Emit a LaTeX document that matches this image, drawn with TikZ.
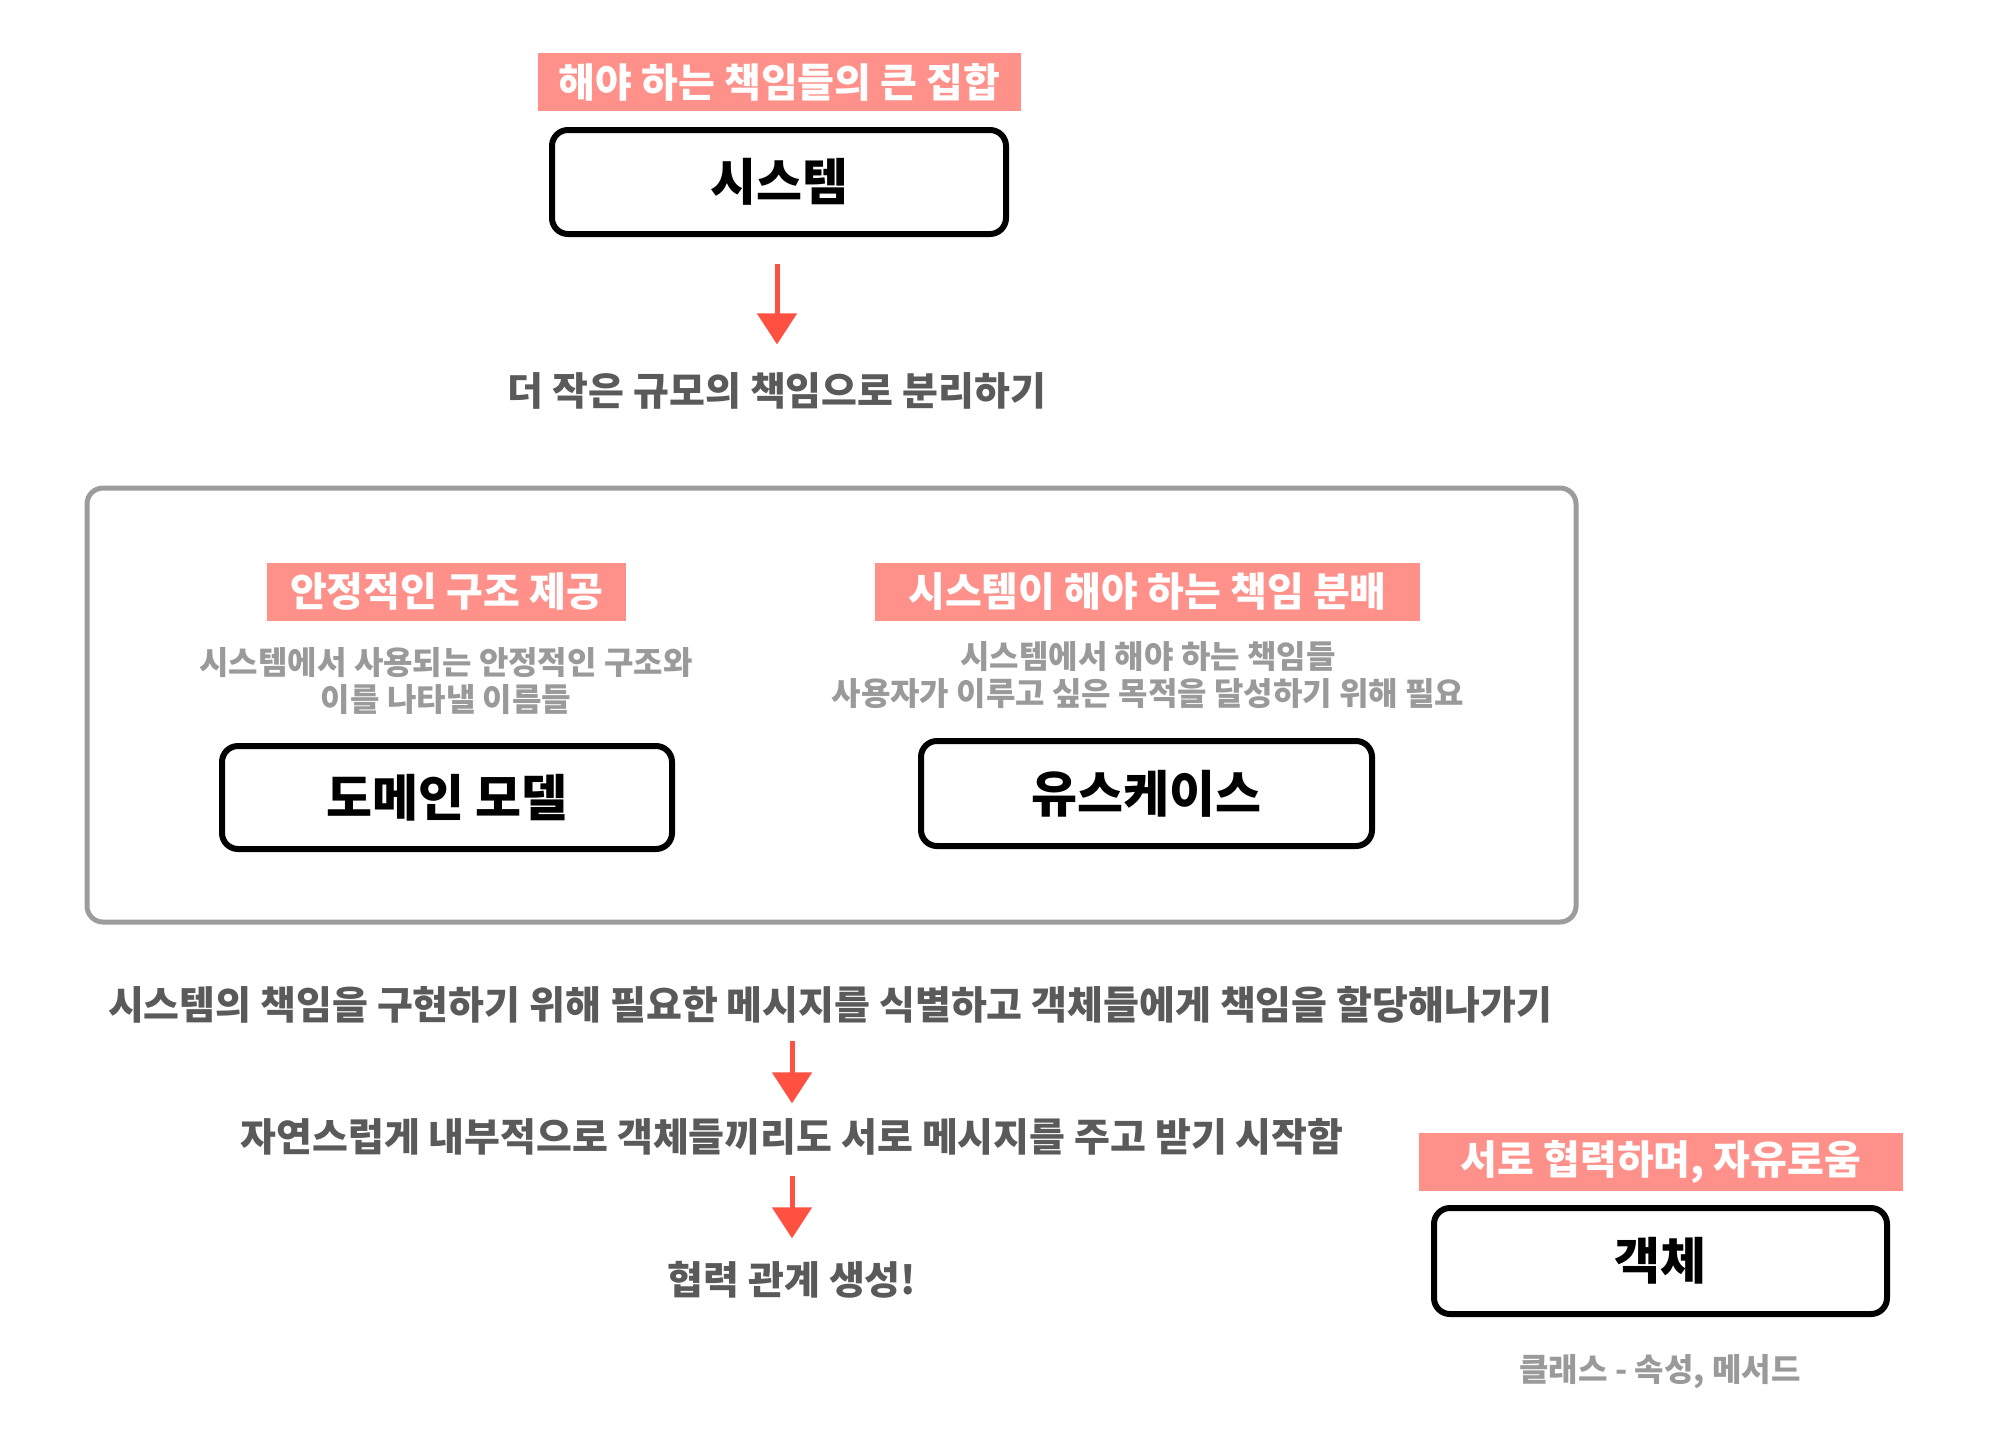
\documentclass[tikz,border=0pt]{standalone}
\usepackage{fontspec}
\setmainfont{Noto Sans CJK KR}
\usetikzlibrary{arrows.meta}
\definecolor{pinkfill}{HTML}{FF918A}
\definecolor{arrowred}{HTML}{FF5142}
\definecolor{txtdark}{HTML}{5A5A5A}
\definecolor{txtlight}{HTML}{9A9A9A}
\definecolor{groupgray}{HTML}{9C9C9C}
\tikzset{
  tag/.style={fill=pinkfill, text=white, font=\bfseries\fontsize{40}{44}\selectfont, inner sep=0pt, minimum height=58pt},
  objbox/.style={draw=black, line width=6pt, rounded corners=16pt, font=\bfseries\fontsize{50}{55}\selectfont, inner sep=0pt, minimum height=104pt, minimum width=454pt},
  note/.style={text=txtlight, font=\bfseries\fontsize{32}{37}\selectfont, align=center, inner sep=0pt},
  flow/.style={text=txtdark, font=\bfseries\fontsize{39}{43}\selectfont, inner sep=0pt},
  redarrow/.style={draw=arrowred, line width=5pt, -{Triangle[width=39pt,length=31pt]}},
  groupbox/.style={draw=groupgray, line width=5pt, rounded corners=16pt, inner sep=0pt}
}
\begin{document}
\begin{tikzpicture}[x=1pt,y=-1pt]
\useasboundingbox[fill=white] (0,0) rectangle (2000,1444);

% container
\node[groupbox, minimum width=1489pt, minimum height=434pt] (group) at (831.5,705) {};

% top
\node[tag, minimum width=483pt] (tagsys) at (779.5,82) {해야 하는 책임들의 큰 집합};
\node[objbox] (sys) at (779,182) {시스템};
\node[flow] (smaller) at (777,391) {더 작은 규모의 책임으로 분리하기};

% inside group
\node[tag, minimum width=359pt] (tagdom) at (446.5,592) {안정적인 구조 제공};
\node[note] (notedom) at (446,681.5) {시스템에서 사용되는 안정적인 구조와\\이를 나타낼 이름들};
\node[objbox, minimum width=450pt, minimum height=103pt] (domain) at (447,797.5) {도메인 모델};

\node[tag, minimum width=545pt] (taguse) at (1147.5,592) {시스템이 해야 하는 책임 분배};
\node[note] (noteuse) at (1148,675) {시스템에서 해야 하는 책임들\\사용자가 이루고 싶은 목적을 달성하기 위해 필요};
\node[objbox, minimum width=451pt, minimum height=105pt] (usecase) at (1146.5,793.5) {유스케이스};

% flow below
\node[flow] (identify) at (830,1005) {시스템의 책임을 구현하기 위해 필요한 메시지를 식별하고 객체들에게 책임을 할당해나가기};
\node[flow] (exchange) at (792,1137) {자연스럽게 내부적으로 객체들끼리도 서로 메시지를 주고 받기 시작함};
\node[flow] (collab) at (792,1280) {협력 관계 생성!};

% object
\node[tag, minimum width=484pt] (tagobj) at (1661,1162) {서로 협력하며, 자유로움};
\node[objbox, minimum width=453pt, minimum height=106pt] (object) at (1660.5,1261) {객체};
\node[note] (noteobj) at (1660,1372) {클래스 - 속성, 메서드};

% arrows
\draw[redarrow, shorten <=27pt, shorten >=28pt] (sys.south -| smaller.north) -- (smaller.north);
\draw[redarrow, shorten <=17pt, shorten >=15pt] (identify.south -| exchange.north) -- (exchange.north);
\draw[redarrow, shorten <=20pt, shorten >=23pt] (exchange.south) -- (collab.north);
\end{tikzpicture}
\end{document}
